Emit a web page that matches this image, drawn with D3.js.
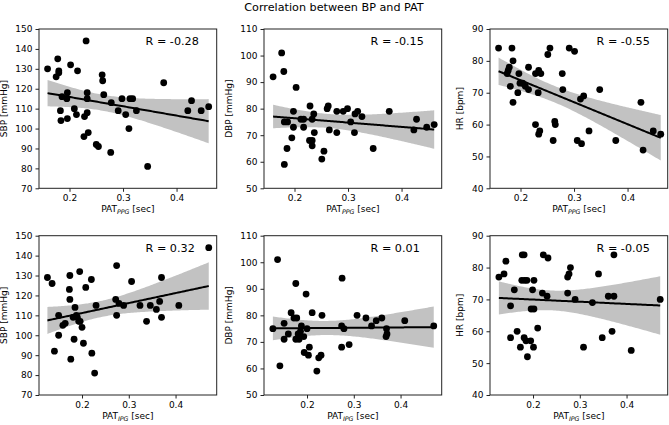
<!DOCTYPE html>
<html>
<head>
<meta charset="utf-8">
<script src="https://cdn.jsdelivr.net/npm/d3@7/dist/d3.min.js"></script>
<style>
  body { margin: 0; background: #fff; }
  svg { font-family: "DejaVu Sans", sans-serif; }
</style>
</head>
<body>
<div id="chart"></div>
<script>
// PAT_PPG (top row) and PAT_IPG (bottom row)
const ppgSbpX = [0.159,0.178,0.180,0.180,0.175,0.186,0.183,0.184,0.196,0.195,0.196,0.202,0.215,0.209,0.213,0.231,0.233,0.233,0.233,0.228,0.235,0.227,0.250,0.254,0.261,0.262,0.264,0.277,0.278,0.291,0.298,0.305,0.311,0.313,0.318,0.325,0.346,0.376,0.421,0.428,0.446,0.460];
const ppgSbpY = [130,135,129,128,126,116,109,104,118,115,105,132,129,110,107,144,118,115,108,106,98,96,92,91,127,124,117,88,113,109,115,107,100,115,115,109,81,123,109,114,109,111];

const ppgDbpX = [0.160,0.176,0.180,0.181,0.187,0.181,0.186,0.198,0.198,0.195,0.203,0.212,0.217,0.217,0.229,0.233,0.236,0.237,0.228,0.233,0.233,0.255,0.251,0.261,0.263,0.265,0.279,0.279,0.291,0.299,0.305,0.312,0.313,0.318,0.326,0.347,0.377,0.423,0.428,0.447,0.461];
const ppgDbpY = [92,101,94,75,75,59,65,79,73,69,88,76,76,73,81,76,78,71,68,68,66,64,61,80,81,72,79,71,79,80,75,71,78,79,77,65,79,72,76,73,74];

const ppgHrX = [0.159,0.184,0.177,0.179,0.175,0.186,0.181,0.186,0.197,0.199,0.195,0.204,0.209,0.215,0.215,0.228,0.234,0.238,0.233,0.228,0.236,0.234,0.251,0.255,0.264,0.265,0.261,0.278,0.279,0.291,0.301,0.306,0.314,0.312,0.318,0.328,0.348,0.378,0.425,0.429,0.448,0.462];
const ppgHrY = [84,84,77,78,76,80,72,67,76,73,70,73,72,71,78,76,77,76,70,60,58,57,82,84,61,60,55,76,71,84,83,55,54,68,69,58,71,55,67,52,58,57];

const ipgSbpX = [0.126,0.136,0.150,0.150,0.141,0.159,0.164,0.173,0.174,0.174,0.176,0.183,0.185,0.181,0.188,0.190,0.195,0.193,0.196,0.200,0.203,0.208,0.220,0.221,0.227,0.230,0.274,0.272,0.274,0.279,0.289,0.306,0.324,0.338,0.346,0.359,0.366,0.370,0.370,0.407,0.471];
const ipgSbpY = [129,126,110,100,92,105,106,123,130,118,88,98,114,109,110,109,132,107,107,104,96,124,128,91,81,115,135,118,110,116,115,127,115,107,115,113,117,129,109,115,144];

const ipgDbpX = [0.127,0.137,0.142,0.151,0.151,0.160,0.166,0.176,0.172,0.178,0.176,0.181,0.183,0.186,0.188,0.193,0.194,0.198,0.200,0.203,0.205,0.211,0.221,0.225,0.230,0.232,0.275,0.274,0.279,0.274,0.290,0.307,0.326,0.338,0.348,0.360,0.370,0.371,0.369,0.409,0.471];
const ipgDbpY = [75,101,61,77,71,73,81,92,79,79,71,73,71,74,76,72,66,88,75,65,68,81,59,64,65,80,94,76,75,68,69,80,79,76,78,79,75,73,72,78,76];

const ipgHrX = [0.127,0.138,0.142,0.152,0.152,0.160,0.166,0.173,0.177,0.181,0.176,0.182,0.187,0.181,0.185,0.188,0.195,0.196,0.199,0.202,0.202,0.201,0.210,0.222,0.232,0.220,0.230,0.274,0.277,0.280,0.274,0.290,0.308,0.327,0.340,0.348,0.361,0.373,0.369,0.373,0.410,0.472];
const ipgHrY = [77,78,82,68,58,73,60,55,84,84,76,76,76,58,57,52,57,67,73,67,76,55,61,84,83,72,71,77,78,80,72,70,55,69,78,58,71,71,60,84,54,70];

const rLabels = ["R = -0.28", "R = -0.15", "R = -0.55", "R = 0.32", "R = 0.01", "R = -0.05"];
const yLabels = ["SBP [mmHg]", "DBP [mmHg]", "HR [bpm]"];
const xSubs = ["PPG", "IPG"];
const xTicks = [0.2, 0.3, 0.4];
const sbpTicks = [70, 80, 90, 100, 110, 120, 130, 140, 150];
const dbpTicks = [50, 60, 70, 80, 90, 100, 110];
const hrTicks = [40, 50, 60, 70, 80, 90];

const width = 669, height = 425;
const colLeft = [39, 264, 490], rowTop = [29, 235.7];
const pw = 177.7, ph = 159.3;
const xDomains = [[0.143, 0.475], [0.108, 0.488]];

const panels = [
  { row: 0, col: 0, xs: ppgSbpX, ys: ppgSbpY, ticks: sbpTicks },
  { row: 0, col: 1, xs: ppgDbpX, ys: ppgDbpY, ticks: dbpTicks },
  { row: 0, col: 2, xs: ppgHrX, ys: ppgHrY, ticks: hrTicks },
  { row: 1, col: 0, xs: ipgSbpX, ys: ipgSbpY, ticks: sbpTicks },
  { row: 1, col: 1, xs: ipgDbpX, ys: ipgDbpY, ticks: dbpTicks },
  { row: 1, col: 2, xs: ipgHrX, ys: ipgHrY, ticks: hrTicks }
];

const svg = d3.select("#chart").append("svg")
  .attr("width", width).attr("height", height);

svg.append("text")
  .attr("x", 334).attr("y", 11)
  .attr("text-anchor", "middle")
  .attr("font-size", 11.2).attr("fill", "#000")
  .text("Correlation between BP and PAT");

// least squares fit with 95% band for the mean
function fit(xs, ys) {
  const n = xs.length, mx = d3.mean(xs), my = d3.mean(ys);
  let sxx = 0, sxy = 0;
  xs.forEach((x, i) => { sxx += (x - mx) ** 2; sxy += (x - mx) * (ys[i] - my); });
  const b = sxy / sxx, a = my - b * mx;
  let sse = 0;
  xs.forEach((x, i) => { sse += (ys[i] - a - b * x) ** 2; });
  const s = Math.sqrt(sse / (n - 2)), t = 2.02;
  const lo = d3.min(xs), hi = d3.max(xs);
  const grid = d3.range(0, 101).map(k => lo + (hi - lo) * k / 100);
  return grid.map(x => {
    const yh = a + b * x;
    const se = s * Math.sqrt(1 / n + (x - mx) ** 2 / sxx);
    return { x, y: yh, y0: yh - t * se, y1: yh + t * se };
  });
}

panels.forEach((p, i) => {
  const g = svg.append("g")
    .attr("transform", `translate(${colLeft[p.col]},${rowTop[p.row]})`);

  const x = d3.scaleLinear().domain(xDomains[p.row]).range([0, pw]);
  const y = d3.scaleLinear().domain(d3.extent(p.ticks)).range([ph, 0]);

  const line = fit(p.xs, p.ys);

  g.append("path")
    .datum(line)
    .attr("fill", "#c2c2c2")
    .attr("d", d3.area().x(d => x(d.x)).y0(d => y(d.y0)).y1(d => y(d.y1)));

  g.selectAll(".dot")
    .data(p.xs.map((v, k) => [v, p.ys[k]]))
    .enter().append("circle")
    .attr("cx", d => x(d[0]))
    .attr("cy", d => y(d[1]))
    .attr("r", 3.4)
    .attr("fill", "#000");

  g.append("path")
    .datum(line)
    .attr("fill", "none")
    .attr("stroke", "#000")
    .attr("stroke-width", 2)
    .attr("d", d3.line().x(d => x(d.x)).y(d => y(d.y)));

  // frame
  g.append("rect")
    .attr("width", pw).attr("height", ph)
    .attr("fill", "none").attr("stroke", "#222").attr("stroke-width", 1);

  const xa = g.append("g")
    .attr("transform", `translate(0,${ph})`)
    .call(d3.axisBottom(x).tickValues(xTicks).tickFormat(d3.format(".1f")).tickSize(3.5).tickPadding(3));
  const ya = g.append("g")
    .call(d3.axisLeft(y).tickValues(p.ticks).tickFormat(d3.format("d")).tickSize(3.5).tickPadding(3));
  [xa, ya].forEach(a => {
    a.select(".domain").remove();
    a.selectAll("text").attr("font-size", 9).attr("font-family", "DejaVu Sans").attr("fill", "#000");
    a.selectAll("line").attr("stroke", "#222");
  });

  // R annotation
  g.append("text")
    .attr("x", pw * 0.6).attr("y", ph * 0.1)
    .attr("font-size", 11.2).attr("fill", "#000")
    .text(rLabels[i]);

  // y label, placed left of the widest tick label
  const digits = String(d3.max(p.ticks)).length;
  g.append("text")
    .attr("text-anchor", "middle")
    .attr("font-size", 9).attr("fill", "#000")
    .attr("transform", `translate(${-(digits * 5.8 + 15)},${ph / 2}) rotate(-90)`)
    .text(yLabels[p.col]);

  // x label with subscript
  const xl = g.append("text")
    .attr("x", pw / 2).attr("y", ph + 24)
    .attr("text-anchor", "middle")
    .attr("font-size", 9).attr("fill", "#000");
  xl.append("tspan").text("PAT");
  xl.append("tspan").attr("font-size", 6.3).attr("font-style", "italic").attr("dy", 2).text(xSubs[p.row]);
  xl.append("tspan").attr("dy", -2).text(" [sec]");
});
</script>
</body>
</html>
